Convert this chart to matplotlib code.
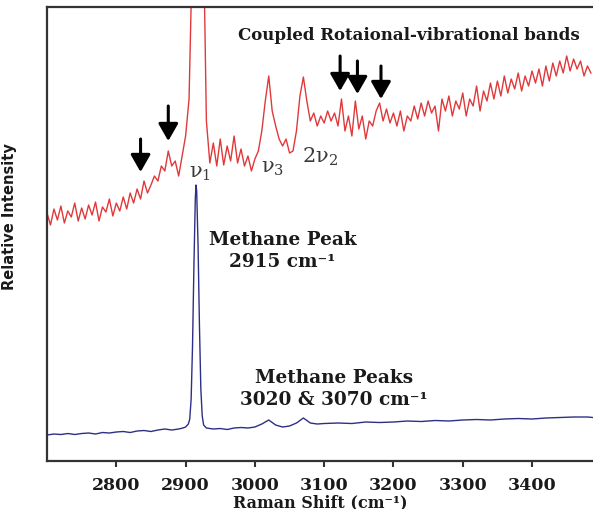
import numpy as np
import matplotlib
matplotlib.use("Agg")
import matplotlib.pyplot as plt

plt.rcParams["mathtext.fontset"] = "dejavuserif"

# red trace: methane in the sample (scaled view), 5 cm-1 steps
red_shift = np.arange(2700, 3490, 5)
red_int = [
    248, 236, 252, 241, 255, 238, 250, 244, 258, 240,
    253, 242, 256, 246, 259, 240, 254, 249, 262, 245,
    258, 250, 264, 252, 268, 258, 272, 262, 280, 268,
    276, 285, 280, 295, 290, 310, 295, 300, 285, 305,
    325, 362, 520, 700, 700, 560, 340, 298, 318, 295,
    322, 296, 315, 300, 325, 298, 312, 295, 305, 290,
    302, 310, 330, 360, 385, 350, 335, 322, 315, 322,
    308, 310, 330, 365, 384, 360, 340, 348, 335, 345,
    338, 350, 340, 348, 335, 362, 330, 345, 325, 360,
    332, 345, 322, 340, 335, 350, 358, 340, 352, 338,
    348, 335, 350, 330, 345, 340, 355, 342, 358, 345,
    360, 348, 355, 330, 362, 350, 365, 345, 360, 352,
    368, 345, 362, 355, 375, 350, 370, 360, 378, 362,
    380, 365, 385, 368, 382, 372, 388, 370, 385, 375,
    390, 378, 392, 375, 395, 380, 398, 385, 400, 388,
    405, 390, 402, 392, 400, 385, 395, 388,
]

# blue trace: full-scale methane spectrum
blue_shift = [
    2700, 2710, 2720, 2730, 2740, 2750, 2760, 2770, 2780, 2790,
    2800, 2810, 2820, 2830, 2840, 2850, 2860, 2870, 2880, 2890,
    2896, 2900, 2904, 2906, 2908, 2910, 2912, 2914, 2915, 2916,
    2918, 2920, 2922, 2924, 2926, 2930, 2940, 2950, 2960, 2970,
    2980, 2990, 3000, 3010, 3020, 3030, 3040, 3050, 3060, 3070,
    3080, 3090, 3100, 3120, 3140, 3160, 3180, 3200, 3220, 3240,
    3260, 3280, 3300, 3320, 3340, 3360, 3380, 3400, 3420, 3440,
    3460, 3480, 3488,
]
blue_int = [
    26, 27, 26.5, 27.5, 26.5, 27.5, 28, 27, 28.5, 28,
    29, 29.5, 28.5, 30, 30.5, 29.5, 31, 32, 31, 32,
    33, 34, 37, 42, 62, 115, 195, 262, 276, 270,
    215, 135, 72, 45, 36, 33, 32, 32.5, 31.5, 33,
    33.5, 33, 34, 37, 41, 36, 34, 35, 38, 43,
    38, 37, 37.5, 38, 37.5, 39, 38.5, 39, 40, 39.5,
    40.5, 40, 41, 41.5, 41, 42, 42.5, 42, 43, 43.5,
    44, 44, 43.5,
]

# arrows marking rotational-vibrational bands: (shift, tail, head)
arrow_shift = [2835, 2875, 3123, 3148, 3182]
arrow_tail = [322, 355, 405, 400, 395]
arrow_head = [289, 320, 370, 367, 362]

xticks = [2800, 2900, 3000, 3100, 3200, 3300, 3400]

fig = plt.figure(figsize=(5.93, 5.10), dpi=100)
ax = fig.add_axes([0.0793, 0.0941, 0.9207, 0.8902])

ax.plot(red_shift, red_int, color="#e0393b", lw=1.0)
ax.plot(blue_shift, blue_int, color="#2e2f86", lw=1.0)

for xs, yt, yh in zip(arrow_shift, arrow_tail, arrow_head):
    ax.annotate("", xy=(xs, yh), xytext=(xs, yt),
                arrowprops=dict(arrowstyle="-|>,head_width=0.4,head_length=0.7",
                                color="black", lw=2.2, mutation_scale=15,
                                shrinkA=0, shrinkB=0))

bold_serif = dict(family="DejaVu Serif", fontweight="bold", color="#1a1a1a")
ax.text(3222, 427, "Coupled Rotaional-vibrational bands", ha="center", va="center",
        fontsize=12, **bold_serif)
ax.text(3040, 222, "Methane Peak", ha="center", va="center", fontsize=13.3, **bold_serif)
ax.text(3040, 200, "2915 cm\u207b\u00b9", ha="center", va="center", fontsize=13.3, **bold_serif)
ax.text(3114, 84, "Methane Peaks", ha="center", va="center", fontsize=13.3, **bold_serif)
ax.text(3114, 62, "3020 & 3070 cm\u207b\u00b9", ha="center", va="center", fontsize=13.3, **bold_serif)

nu_style = dict(ha="center", va="center", fontsize=15, color="#3a3a3a", family="DejaVu Serif")
ax.text(2921, 289, "\u03bd$_1$", **nu_style)
ax.text(3026, 294, "\u03bd$_3$", **nu_style)
ax.text(3094, 305, "2\u03bd$_2$", **nu_style)

ax.set_xlim(2700, 3488)
ax.set_ylim(0, 454)
ax.set_xticks(xticks)
ax.set_xticklabels([str(t) for t in xticks], **bold_serif, fontsize=12.5)
ax.set_yticks([])
ax.tick_params(axis="x", direction="out", length=4, width=1.5, color="#333333", pad=7)

for side in ["left", "bottom", "top"]:
    ax.spines[side].set_linewidth(1.6)
    ax.spines[side].set_color("#333333")
ax.spines["right"].set_visible(False)

ax.set_xlabel("Raman Shift (cm\u207b\u00b9)", fontsize=11.5, labelpad=0, **bold_serif)
ax.set_ylabel("Relative Intensity", family="DejaVu Sans", fontweight="bold",
              fontsize=10.5, color="#1a1a1a")
ax.yaxis.set_label_coords(-0.055, 0.54)

fig.savefig("out.png", dpi=100)
